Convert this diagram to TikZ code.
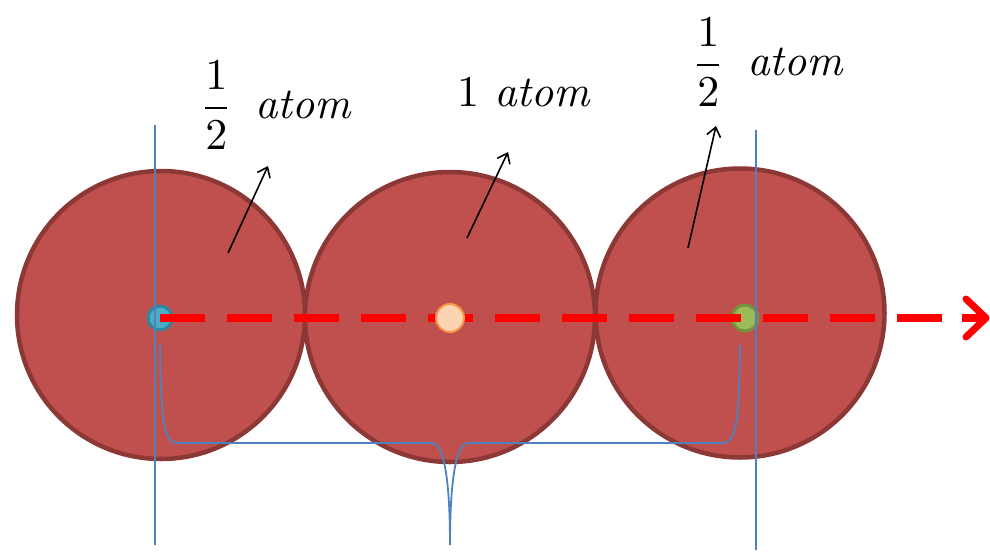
\documentclass[tikz,border=0pt]{standalone}
\usetikzlibrary{arrows.meta}
\definecolor{atomfill}{HTML}{C0504D}
\definecolor{atomedge}{HTML}{8C3836}
\definecolor{bluel}{HTML}{4F81BD}
\definecolor{cyanf}{HTML}{4BACC6}
\definecolor{cyane}{HTML}{31859C}
\definecolor{peachf}{HTML}{FBD4B4}
\definecolor{peache}{HTML}{F79646}
\definecolor{greenf}{HTML}{9BBB59}
\definecolor{greene}{HTML}{76923C}
\newcommand{\biglbl}[1]{\scalebox{4.4}{#1}}
\tikzset{
  atom/.style={circle, fill=atomfill, draw=atomedge, line width=4.5pt, minimum size=#1, inner sep=0pt},
  dot/.style={circle, line width=3pt, minimum size=#1, inner sep=0pt},
  guide/.style={draw=bluel, line width=1.8pt},
  pointer/.style={draw=black, line width=1.6pt, -{Straight Barb[length=9pt,width=14pt,line width=1.6pt]}},
  lbl/.style={inner sep=0pt},
}
\begin{document}
\begin{tikzpicture}[x=1pt,y=-1pt]
\useasboundingbox (0,0) rectangle (990,554);
% atoms
\node[atom=288pt] (A) at (161,315) {};
\node[atom=290pt] (B) at (450,317) {};
\node[atom=289pt] (C) at (740,313) {};
% end dots
\node[dot=24pt, fill=cyanf, draw=cyane] (d1) at (160,318) {};
\node[dot=26pt, fill=greenf, draw=greene] (d3) at (745,318) {};
% red dashed axis
\coordinate (axisend) at (962,318);
\draw[red, line width=8pt, dash pattern=on 45pt off 22pt] (d1.center) -- (axisend);
\coordinate (tip) at (986,318);
\draw[red, line width=7pt, line cap=round, line join=round] (966,299) -- (tip) -- (966,337);
\draw[red, line width=8pt] (962,318) -- (984,318);
% middle dot
\node[dot=28pt, fill=peachf, draw=peache, line width=2pt] (d2) at (450,318) {};
% vertical guides
\coordinate (g1t) at (155,125); \coordinate (g1b) at (155,545);
\coordinate (g2t) at (756,130); \coordinate (g2b) at (756,550);
\draw[guide] (g1t) -- (g1b);
\draw[guide] (g2t) -- (g2b);
% brace
\coordinate (bl) at (160,345); \coordinate (br) at (740,345); \coordinate (btip) at (450,545);
\draw[guide] (bl) .. controls (161,420) and (163,443) .. (178,443) -- (432,443)
  .. controls (444,443) and (450,480) .. (btip)
  .. controls (450,480) and (456,443) .. (468,443) -- (722,443)
  .. controls (737,443) and (739,420) .. (br);
% pointers
\coordinate (p1s) at (228,253); \coordinate (p1e) at (268,166);
\coordinate (p2s) at (467,238); \coordinate (p2e) at (508,152);
\coordinate (p3s) at (688,248); \coordinate (p3e) at (716,126);
\draw[pointer] (p1s) -- (p1e);
\draw[pointer] (p2s) -- (p2e);
\draw[pointer] (p3s) -- (p3e);
% labels
\node[lbl, anchor=west] (L1) at (200,105) {\biglbl{$\displaystyle\frac{1}{2}\ \,\mathit{atom}$}};
\node[lbl, anchor=west] (L2) at (457,92) {\biglbl{$1\ \mathit{atom}$}};
\node[lbl, anchor=west] (L3) at (692,62) {\biglbl{$\displaystyle\frac{1}{2}\ \,\mathit{atom}$}};
\end{tikzpicture}
\end{document}
